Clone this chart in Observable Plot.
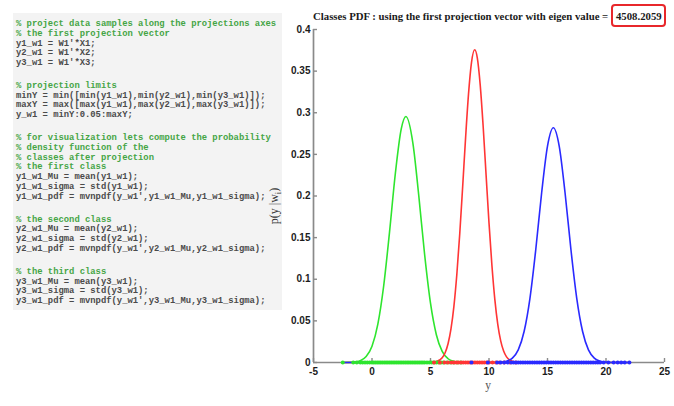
<!DOCTYPE html>
<html>
<head>
<meta charset="utf-8">
<script src="https://cdn.jsdelivr.net/npm/d3@7"></script>
<script src="https://cdn.jsdelivr.net/npm/@observablehq/plot@0.6"></script>
<style>
  html, body { margin: 0; padding: 0; background: #fff; }
  #wrap { position: relative; width: 674px; height: 406px; overflow: hidden; background: #fff; }
  #chart { position: absolute; left: 0; top: 0; }
  #code { position: absolute; left: 13px; top: 13px; width: 269px; height: 297px; background: #f3f3f3;
          box-sizing: border-box; padding: 7px 0 0 3px; font-family: "Liberation Mono", "DejaVu Sans Mono", monospace;
          font-size: 8.85px; font-weight: bold; white-space: pre; }
  #code div { height: 9.75px; line-height: 9.75px; }
  #code div.blank { height: 13.2px; }
  #code .cm { color: #45a545; }
  #code .cd { color: #4a4a4a; }
  #title { position: absolute; left: 313px; top: 4px; font-family: "Liberation Serif", "Times New Roman", serif;
           font-weight: bold; font-size: 10.75px; color: #1a1a1a; white-space: nowrap; line-height: 12px; }
  #title .box { display: inline-block; border: 2px solid #e8272b; border-radius: 4px; padding: 3.5px 2px 3.5px 3px; }
  #xlab { position: absolute; left: 488px; top: 385px; transform: translate(-50%, -50%);
          font-family: "Liberation Serif", serif; font-size: 11.5px; color: #555; }
  #ylab { position: absolute; left: 275px; top: 206px; transform: translate(-50%, -50%) rotate(-90deg);
          font-family: "Liberation Serif", serif; font-size: 12px; color: #333; white-space: nowrap; }
</style>
</head>
<body>
<div id="wrap">
  <div id="chart"></div>
  <div id="code"></div>
  <div id="title"></div>
  <div id="xlab">y</div>
  <div id="ylab">p(y |w<sub style="font-size:8.5px">i</sub>)</div>
</div>
<script>
// ---- text content ----
const titleText = "Classes PDF : using the first projection vector with eigen value = ";
const eigenValue = "4508.2059";
const codeLines = [
  "% project data samples along the projections axes",
  "% the first projection vector",
  "y1_w1 = W1'*X1;",
  "y2_w1 = W1'*X2;",
  "y3_w1 = W1'*X3;",
  "",
  "% projection limits",
  "minY = min([min(y1_w1),min(y2_w1),min(y3_w1)]);",
  "maxY = max([max(y1_w1),max(y2_w1),max(y3_w1)]);",
  "y_w1 = minY:0.05:maxY;",
  "",
  "% for visualization lets compute the probability",
  "% density function of the",
  "% classes after projection",
  "% the first class",
  "y1_w1_Mu = mean(y1_w1);",
  "y1_w1_sigma = std(y1_w1);",
  "y1_w1_pdf = mvnpdf(y_w1',y1_w1_Mu,y1_w1_sigma);",
  "",
  "% the second class",
  "y2_w1_Mu = mean(y2_w1);",
  "y2_w1_sigma = std(y2_w1);",
  "y2_w1_pdf = mvnpdf(y_w1',y2_w1_Mu,y2_w1_sigma);",
  "",
  "% the third class",
  "y3_w1_Mu = mean(y3_w1);",
  "y3_w1_sigma = std(y3_w1);",
  "y3_w1_pdf = mvnpdf(y_w1',y3_w1_Mu,y3_w1_sigma);"
];

// ---- axis ticks ----
const xTicks = [-5, 0, 5, 10, 15, 20, 25];
const yTicks = [0, 0.05, 0.1, 0.15, 0.2, 0.25, 0.3, 0.35, 0.4];

// ---- class 1 (green) pdf ----
const class1Y   = [-2.5, -2, -1.5, -1, -0.5, 0, 0.5, 1, 1.5, 2, 2.5, 2.9, 3.5, 4, 4.5, 5, 5.5, 6, 6.5, 7, 7.5, 8, 8.5, 12, 16, 22.0];
const class1Pdf = [0.00002, 0.00013, 0.0006, 0.0022, 0.0071, 0.0196, 0.0461, 0.0922, 0.157, 0.2276, 0.2806, 0.2955, 0.263, 0.2001, 0.1294, 0.0712, 0.0334, 0.0133, 0.0045, 0.0013, 0.0003, 0.0001, 0, 0, 0, 0];

// ---- class 2 (red) pdf ----
const class2Y   = [-2.5, 2, 4.5, 5, 5.5, 6, 6.25, 6.5, 6.75, 7, 7.25, 7.5, 7.75, 8, 8.25, 8.5, 8.78, 9, 9.25, 9.5, 9.75, 10, 10.25, 10.5, 10.75, 11, 11.25, 11.5, 12, 12.5, 13, 17, 22.0];
const class2Pdf = [0, 0, 0.00002, 0.00016, 0.0011, 0.0057, 0.0117, 0.0225, 0.0403, 0.0675, 0.1057, 0.1546, 0.2114, 0.2701, 0.3226, 0.36, 0.3756, 0.3659, 0.3332, 0.2837, 0.2256, 0.1677, 0.1165, 0.0756, 0.0459, 0.026, 0.0138, 0.0068, 0.0014, 0.0002, 0.00002, 0, 0];

// ---- class 3 (blue) pdf ----
const class3Y   = [-2.5, 3, 8, 10, 10.5, 11, 11.5, 12, 12.5, 13, 13.5, 14, 14.5, 15, 15.5, 16, 16.5, 17, 17.5, 18, 18.5, 19, 19.5, 20, 20.5, 21, 22.0];
const class3Pdf = [0, 0, 0, 0.00002, 0.00009, 0.0004, 0.0016, 0.0053, 0.0152, 0.0372, 0.0771, 0.136, 0.2039, 0.26, 0.282, 0.26, 0.2039, 0.136, 0.0771, 0.0372, 0.0152, 0.0053, 0.0016, 0.0004, 0.00009, 0.00002, 0];

// ---- projected samples (plotted on the baseline) ----
const class1Samples = [-2.5, -1.6, -1.3, -1.0, -0.8, -0.6, -0.4, -0.2, 0, 0.15, 0.3, 0.45, 0.6, 0.75, 0.9, 1.05, 1.2, 1.35, 1.5, 1.65, 1.8, 1.95, 2.1, 2.25, 2.4, 2.55, 2.7, 2.85, 3.0, 3.15, 3.3, 3.45, 3.6, 3.75, 3.9, 4.05, 4.2, 4.35, 4.5, 4.7, 4.9, 5.1, 5.3, 5.5, 5.7, 5.9, 6.1, 6.4, 6.7, 7.0, 7.3, 7.6];
const class2Samples = [5.3, 5.8, 6.2, 6.5, 6.8, 7.0, 7.2, 7.4, 7.6, 7.8, 8.0, 8.2, 8.4, 8.6, 8.8, 9.0, 9.2, 9.4, 9.6, 9.8, 10.0, 10.3, 10.6, 10.9, 11.3, 11.8, 12.3];
const class3Samples = [8.5, 9.9, 10.7, 11.0, 11.3, 11.6, 11.9, 12.1, 12.3, 12.5, 12.7, 12.9, 13.1, 13.3, 13.5, 13.7, 13.9, 14.1, 14.3, 14.5, 14.7, 14.9, 15.1, 15.3, 15.5, 15.7, 15.9, 16.1, 16.3, 16.5, 16.7, 16.9, 17.1, 17.3, 17.5, 17.7, 17.9, 18.1, 18.3, 18.5, 18.7, 18.9, 19.1, 19.3, 19.5, 19.8, 20.2, 20.65, 21.0, 21.3, 21.6, 22.0];

// ---- render the code panel and title ----
const codeEl = document.getElementById("code");
codeLines.forEach(t => {
  const div = document.createElement("div");
  if (t === "") { div.className = "blank"; }
  else { div.className = t.startsWith("%") ? "cm" : "cd"; div.textContent = t; }
  codeEl.appendChild(div);
});
const titleEl = document.getElementById("title");
titleEl.appendChild(document.createTextNode(titleText));
const box = document.createElement("span");
box.className = "box";
box.textContent = eigenValue;
titleEl.appendChild(box);

// ---- chart ----
const G = "#2ee52e", R = "#ff3535", B = "#2a2aff", AX = "#8a8a8a";
const W = 674, H = 406, mL = 313, mR = 10, mT = 29, mB = 44;
const toRows = (xs, ps) => xs.map((x, i) => ({x, p: ps[i]}));

const chart = Plot.plot({
  width: W, height: H,
  marginLeft: mL, marginRight: mR, marginTop: mT, marginBottom: mB,
  style: {background: "transparent", fontFamily: "'Liberation Sans', Arial, sans-serif", fontSize: "10px", fontWeight: "bold", color: "#1c1c1c", overflow: "visible"},
  x: {domain: [-5, 25]},
  y: {domain: [0, 0.4]},
  marks: [
    Plot.ruleY([0], {stroke: AX, strokeWidth: 1.7}),
    Plot.ruleX([-5], {stroke: AX, strokeWidth: 1.7}),
    Plot.tickX(xTicks, {x: d => d, insetTop: H - mT - mB - 4, stroke: AX, strokeWidth: 1.4}),
    Plot.tickY(yTicks, {y: d => d, insetRight: W - mL - mR - 4, stroke: AX, strokeWidth: 1.4}),
    Plot.axisX({ticks: xTicks, tickSize: 0, tickPadding: 5, tickFormat: d => String(d), label: null}),
    Plot.axisY({ticks: yTicks, tickSize: 0, tickPadding: 3, tickFormat: d => String(d), label: null}),
    Plot.line(toRows(class1Y, class1Pdf), {x: "x", y: "p", stroke: G, strokeWidth: 1.6, curve: "monotone-x"}),
    Plot.line(toRows(class2Y, class2Pdf), {x: "x", y: "p", stroke: R, strokeWidth: 1.6, curve: "monotone-x"}),
    Plot.line(toRows(class3Y, class3Pdf), {x: "x", y: "p", stroke: B, strokeWidth: 1.6, curve: "monotone-x"}),
    Plot.dot(class1Samples, {x: d => d, y: () => 0, r: 2, fill: G}),
    Plot.dot(class2Samples, {x: d => d, y: () => 0, r: 2, fill: R}),
    Plot.dot(class3Samples, {x: d => d, y: () => 0, r: 2, fill: B})
  ]
});
document.getElementById("chart").appendChild(chart);
</script>
</body>
</html>
